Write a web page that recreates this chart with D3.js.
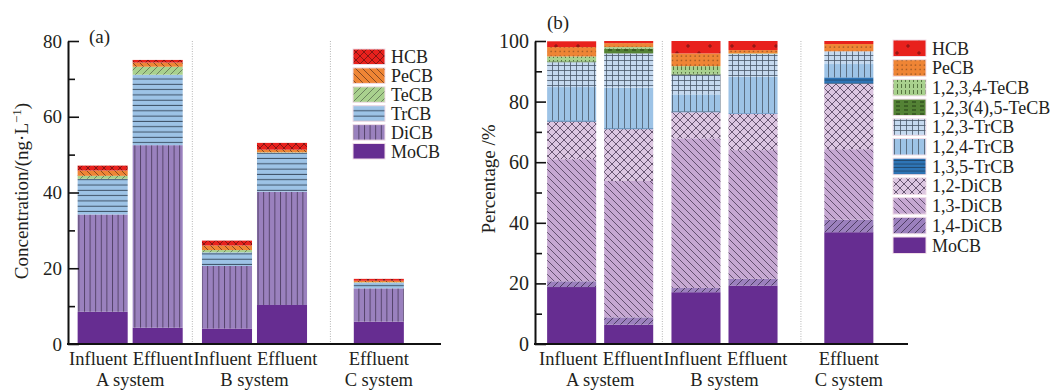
<!DOCTYPE html>
<html>
<head>
<meta charset="utf-8">
<script src="https://cdn.jsdelivr.net/npm/d3@7"></script>
<style>
  body { margin: 0; background: #fff; }
  svg text { font-family: 'Liberation Serif', 'Times New Roman', serif; fill: #231f20; }
</style>
</head>
<body>
<svg id="chart" width="1053" height="391"></svg>
<script>
// samples, same order in both panels
const sampleLabels = ['Influent', 'Effluent', 'Influent', 'Effluent', 'Effluent'];
const sampleGroups = ['A system', 'A system', 'B system', 'B system', 'C system'];
const systems = ['A system', 'B system', 'C system'];

// (a) homologue concentrations, ng/L (stack order bottom -> top)
const homologues = ['MoCB', 'DiCB', 'TrCB', 'TeCB', 'PeCB', 'HCB'];
const concMoCB = [8.5, 4.3, 4.1, 10.3, 5.9];
const concDiCB = [25.7, 48.2, 16.5, 29.9, 8.8];
const concTrCB = [9.4, 18.6, 3.6, 10.3, 1.5];
const concTeCB = [0.8, 2.1, 0.6, 0.1, 0.1];
const concPeCB = [1.4, 1.1, 1.2, 0.7, 0.4];
const concHCB = [1.3, 0.7, 1.3, 1.8, 0.5];
const concTicks = [0, 20, 40, 60, 80];
const concMinor = [10, 30, 50, 70];

// (b) congener percentages (stack order bottom -> top)
const congeners = ['MoCB', '1,4-DiCB', '1,3-DiCB', '1,2-DiCB', '1,3,5-TrCB', '1,2,4-TrCB',
  '1,2,3-TrCB', '1,2,3(4),5-TeCB', '1,2,3,4-TeCB', 'PeCB', 'HCB'];
const pctMoCB = [18.8, 6.4, 17.1, 19.3, 36.9];
const pct14DiCB = [1.9, 2.4, 1.4, 2.2, 4.1];
const pct13DiCB = [40.3, 45.0, 49.4, 42.5, 23.3];
const pct12DiCB = [12.4, 17.1, 8.6, 12.0, 21.6];
const pct135TrCB = [0.4, 0.3, 0.3, 0.2, 2.1];
const pct124TrCB = [11.0, 13.4, 5.6, 12.0, 4.4];
const pct123TrCB = [8.2, 11.3, 6.5, 7.5, 4.2];
const pct12345TeCB = [0.3, 1.6, 0.3, 0.0, 0.0];
const pct1234TeCB = [1.6, 0.5, 2.5, 0.2, 0.0];
const pctPeCB = [3.1, 1.3, 4.2, 1.1, 2.4];
const pctHCB = [1.9, 0.7, 4.1, 3.0, 1.0];
const pctTicks = [0, 20, 40, 60, 80, 100];
const pctMinor = [10, 30, 50, 70, 90];

const svg = d3.select('#chart');
const defs = svg.append('defs');

// ids can't hold commas / brackets inside url()
const pid = (prefix, key) => prefix + key.replace(/[^A-Za-z0-9]/g, '_');

// fill patterns
function pattern(id, w, h, bg, draw) {
  const p = defs.append('pattern')
    .attr('id', id)
    .attr('patternUnits', 'userSpaceOnUse')
    .attr('width', w)
    .attr('height', h);
  p.append('rect').attr('width', w).attr('height', h).attr('fill', bg);
  if (draw) draw(p);
}
function lines(p, d, color, sw) {
  p.append('path').attr('d', d).attr('stroke', color).attr('stroke-width', sw || 0.8).attr('fill', 'none');
}

const back = (s) => `M0,0 L${s},${s} M${-1},${s - 1} L1,${s + 1} M${s - 1},-1 L${s + 1},1`;
const fwd = (s) => `M0,${s} L${s},0 M-1,1 L1,-1 M${s - 1},${s + 1} L${s + 1},${s - 1}`;

// panel (a)
pattern(pid('a-', 'HCB'), 8, 8, '#e8211d', p => lines(p, back(8) + fwd(8), '#7c1512', 0.9));
pattern(pid('a-', 'PeCB'), 7, 7, '#ef8535', p => lines(p, back(7), '#6b3a1c', 0.8));
pattern(pid('a-', 'TeCB'), 7, 7, '#a9d18e', p => lines(p, fwd(7), '#5d6e52', 0.8));
pattern(pid('a-', 'TrCB'), 10, 5.3, '#9dc3e6', p => lines(p, 'M0,4.8 L10,4.8', '#3e5166', 1));
pattern(pid('a-', 'DiCB'), 5.6, 10, '#9a81be', p => lines(p, 'M0.5,0 L0.5,10', '#4b3b60', 0.9));
pattern(pid('a-', 'MoCB'), 10, 10, '#662d91');

// panel (b)
pattern(pid('b-', 'HCB'), 22, 14, '#e8211d', p => lines(p, 'M4,4 L8,4 M6,2 L6,6 M15,11 L19,11 M17,9 L17,13', '#6b1010', 0.8));
pattern(pid('b-', 'PeCB'), 4.5, 4.5, '#ef8535', p => p.append('circle').attr('cx', 2).attr('cy', 2).attr('r', 0.6).attr('fill', '#5e3316'));
pattern(pid('b-', '1,2,3,4-TeCB'), 4, 6, '#a9d18e', p => lines(p, 'M1.5,0 L1.5,4', '#4f6b3a', 0.9));
pattern(pid('b-', '1,2,3(4),5-TeCB'), 8, 4, '#548235', p => lines(p, 'M0,2 L4,2', '#1e3512', 0.9));
pattern(pid('b-', '1,2,3-TrCB'), 6, 5, '#c5d9ef', p => lines(p, 'M0.5,0 L0.5,5 M0,0.5 L6,0.5', '#4a5868', 0.8));
pattern(pid('b-', '1,2,4-TrCB'), 6, 10, '#9dc3e6', p => lines(p, 'M0.5,0 L0.5,10', '#4a5868', 0.8));
pattern(pid('b-', '1,3,5-TrCB'), 10, 3.5, '#2e75b6', p => lines(p, 'M0,3 L10,3', '#1c3a5a', 0.8));
pattern(pid('b-', '1,2-DiCB'), 8, 8, '#dcc6e1', p => lines(p, back(8) + fwd(8), '#4a3a55', 0.8));
pattern(pid('b-', '1,3-DiCB'), 7, 7, '#c6a8d2', p => lines(p, back(7), '#4a3a55', 0.8));
pattern(pid('b-', '1,4-DiCB'), 7, 7, '#9b80bd', p => lines(p, fwd(7), '#3b2d4c', 0.8));
pattern(pid('b-', 'MoCB'), 10, 10, '#662d91');

function drawPanel(opt) {
  const g = svg.append('g');

  const y = d3.scaleLinear().domain([0, opt.yMax]).range([opt.yBottom, opt.yTop]);
  const outer = d3.scaleBand().domain(systems).range([opt.x0, opt.x1]);
  const inner = d3.scaleBand().domain(['Influent', 'Effluent'])
    .range([0, outer.bandwidth()])
    .paddingInner(opt.gap)
    .paddingOuter(opt.edge);

  const membersOf = (s) => d3.range(sampleGroups.length).filter(j => sampleGroups[j] === s);

  // centre the bars of each system inside its band
  const barX = (i) => {
    const members = membersOf(sampleGroups[i]);
    const n = members.length;
    const total = n * inner.step() - inner.step() * inner.paddingInner();
    return outer(sampleGroups[i]) + (outer.bandwidth() - total) / 2 + members.indexOf(i) * inner.step() + opt.shift;
  };
  const bw = inner.bandwidth();
  const groupMid = (s) => d3.mean(membersOf(s), i => barX(i) + bw / 2);

  const rows = sampleLabels.map((s, i) => {
    const r = {idx: i};
    opt.keys.forEach((k, j) => { r[k] = opt.values[j][i]; });
    return r;
  });
  const stacked = d3.stack().keys(opt.keys)(rows);

  // dotted separators between systems
  for (let s = 0; s < systems.length - 1; s++) {
    const last = d3.max(membersOf(systems[s]), i => barX(i) + bw);
    const first = d3.min(membersOf(systems[s + 1]), barX);
    const sx = (last + first) / 2;
    g.append('line')
      .attr('x1', sx).attr('x2', sx)
      .attr('y1', opt.yTop).attr('y2', opt.yBottom)
      .attr('stroke', '#b5b5b5')
      .attr('stroke-width', 1)
      .attr('stroke-dasharray', '1,1.5');
  }

  g.selectAll('g.layer')
    .data(stacked)
    .enter().append('g')
    .attr('class', 'layer')
    .attr('fill', d => 'url(#' + pid(opt.prefix, d.key) + ')')
    .selectAll('rect')
    .data(d => d.filter(v => v[1] - v[0] > 0))
    .enter().append('rect')
    .attr('x', d => barX(d.data.idx))
    .attr('width', bw)
    .attr('y', d => y(d[1]))
    .attr('height', d => y(d[0]) - y(d[1]));

  // y axis, ticks pointing inwards
  const axis = g.append('g')
    .attr('transform', 'translate(' + opt.x0 + ',0)')
    .call(d3.axisLeft(y).tickValues(opt.ticks).tickSize(-11).tickSizeOuter(0).tickPadding(6));
  axis.select('path').attr('stroke', '#111').attr('stroke-width', 2);
  axis.selectAll('.tick line').attr('stroke', '#111').attr('stroke-width', 1.6);
  axis.selectAll('.tick text')
    .style('font-family', "'Liberation Serif', 'Times New Roman', serif")
    .style('font-size', opt.tickFont + 'px')
    .attr('fill', '#231f20');

  const minor = g.append('g')
    .attr('transform', 'translate(' + opt.x0 + ',0)')
    .call(d3.axisLeft(y).tickValues(opt.minor).tickSize(-7).tickFormat(''));
  minor.select('path').remove();
  minor.selectAll('.tick line').attr('stroke', '#111').attr('stroke-width', 1.6);

  // x axis line
  g.append('line')
    .attr('x1', opt.x0 - 1).attr('x2', opt.x1)
    .attr('y1', opt.yBottom).attr('y2', opt.yBottom)
    .attr('stroke', '#111')
    .attr('stroke-width', 2);

  // sample labels: a pair is set as one line around the system centre
  g.selectAll('text.sample')
    .data(sampleLabels)
    .enter().append('text')
    .attr('class', 'sample')
    .attr('x', (d, i) => {
      const m = membersOf(sampleGroups[i]);
      if (m.length === 1) return barX(i) + bw / 2;
      return groupMid(sampleGroups[i]) + (m.indexOf(i) === 0 ? -2.5 : 2.5);
    })
    .attr('y', 365)
    .attr('text-anchor', (d, i) => {
      const m = membersOf(sampleGroups[i]);
      if (m.length === 1) return 'middle';
      return m.indexOf(i) === 0 ? 'end' : 'start';
    })
    .style('font-size', '18.5px')
    .text(d => d);

  g.selectAll('text.system')
    .data(systems)
    .enter().append('text')
    .attr('class', 'system')
    .attr('x', s => groupMid(s))
    .attr('y', 386)
    .attr('text-anchor', 'middle')
    .style('font-size', '18.5px')
    .text(d => d);

  g.append('text')
    .attr('x', opt.titleX)
    .attr('y', opt.titleY)
    .style('font-size', '19px')
    .text(opt.title);

  const yl = g.append('text')
    .attr('transform', 'translate(' + (opt.x0 - 40) + ',' + opt.yLabelY + ') rotate(-90)')
    .attr('text-anchor', 'middle')
    .style('font-size', '19px');
  opt.yLabel(yl);

  // legend, top entry = top of stack
  const leg = g.append('g');
  const items = opt.keys.slice().reverse();
  items.forEach((k, i) => {
    const ly = opt.legend.y + i * opt.legend.step;
    leg.append('rect')
      .attr('x', opt.legend.x)
      .attr('y', ly)
      .attr('width', opt.legend.w)
      .attr('height', opt.legend.h)
      .attr('fill', 'url(#' + pid(opt.prefix, k) + ')')
      .attr('stroke', '#f1dde8')
      .attr('stroke-width', 1);
    leg.append('text')
      .attr('x', opt.legend.x + opt.legend.w + 6)
      .attr('y', ly + opt.legend.h / 2)
      .attr('dy', '0.35em')
      .style('font-size', '18px')
      .text(k);
  });
}

drawPanel({
  x0: 68, x1: 441, yTop: 41, yBottom: 344, yMax: 80,
  gap: 0.09, edge: 0.175, shift: 0,
  ticks: concTicks, minor: concMinor, tickFont: 19,
  keys: homologues,
  values: [concMoCB, concDiCB, concTrCB, concTeCB, concPeCB, concHCB],
  prefix: 'a-',
  title: '(a)', titleX: 89, titleY: 43,
  yLabelY: 191,
  yLabel: t => {
    t.append('tspan').text('Concentration/(ng\u00b7L');
    t.append('tspan').attr('dy', -7).style('font-size', '13px').text('\u22121');
    t.append('tspan').attr('dy', 7).text(')');
  },
  legend: {x: 353, y: 49, step: 18.9, w: 32, h: 15.5}
});

drawPanel({
  x0: 535, x1: 908, yTop: 41, yBottom: 344, yMax: 100,
  gap: 0.14, edge: 0.16, shift: 3,
  ticks: pctTicks, minor: pctMinor, tickFont: 20,
  keys: congeners,
  values: [pctMoCB, pct14DiCB, pct13DiCB, pct12DiCB, pct135TrCB, pct124TrCB,
    pct123TrCB, pct12345TeCB, pct1234TeCB, pctPeCB, pctHCB],
  prefix: 'b-',
  title: '(b)', titleX: 547, titleY: 29,
  yLabelY: 179,
  yLabel: t => t.text('Percentage /%'),
  legend: {x: 893, y: 40, step: 19.7, w: 33, h: 16.5}
});
</script>
</body>
</html>
